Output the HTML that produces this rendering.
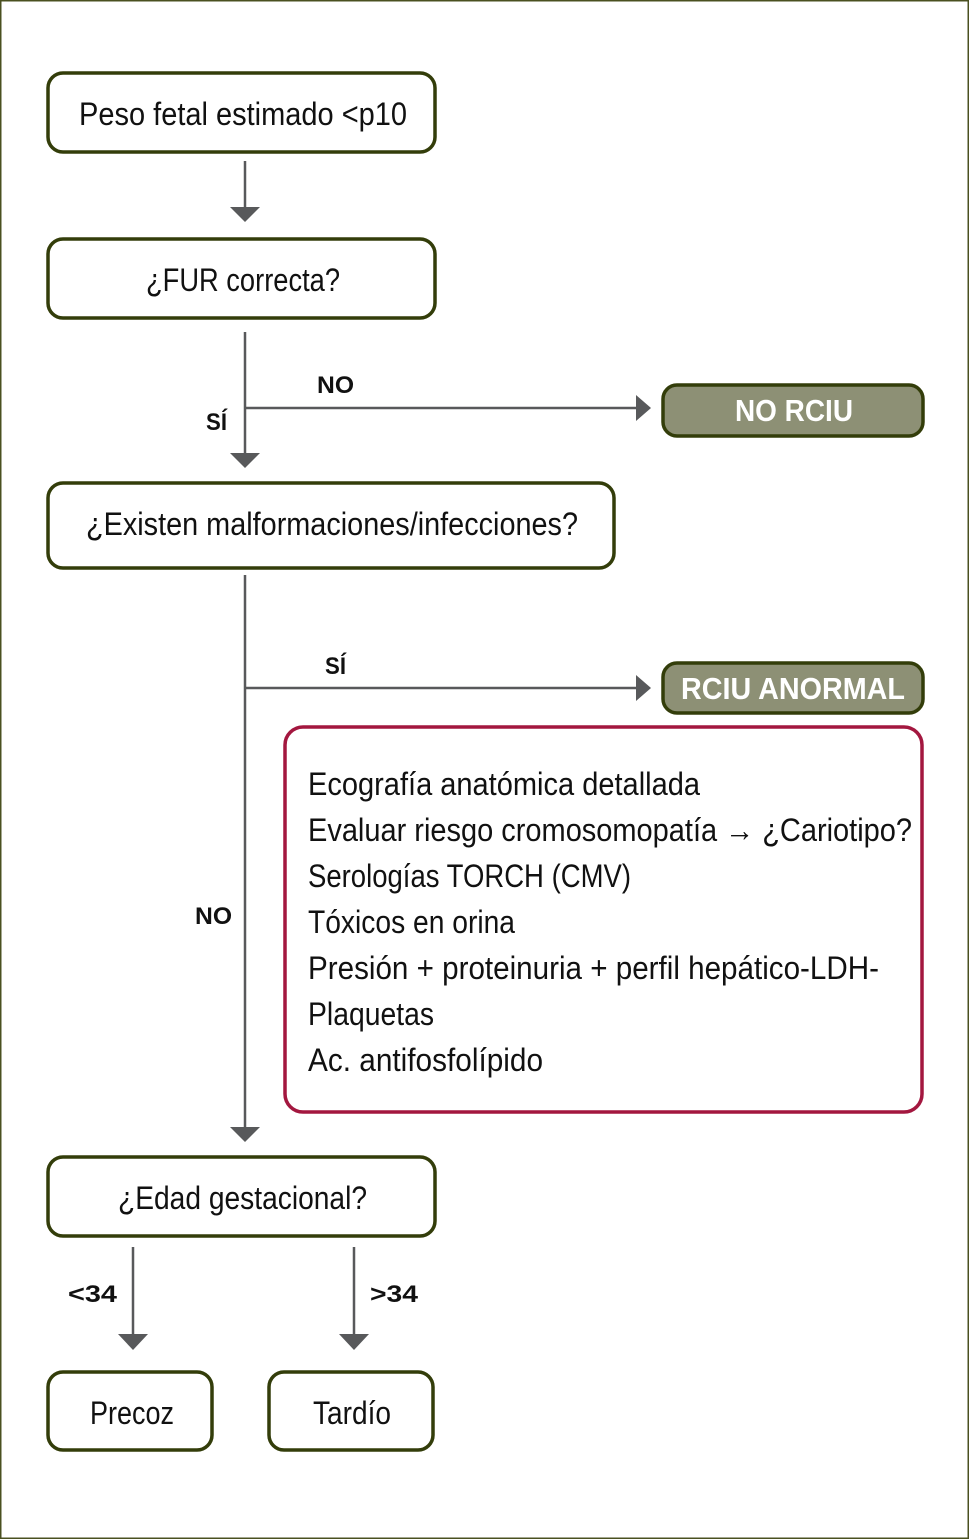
<!DOCTYPE html>
<html><head><meta charset="utf-8"><style>
html,body{margin:0;padding:0;background:#fff;}
svg{display:block;}
text{font-family:"Liberation Sans",sans-serif;fill:#111;}
</style></head><body>
<svg width="969" height="1539" viewBox="0 0 969 1539" xmlns="http://www.w3.org/2000/svg">
<rect x="0.5" y="0.5" width="968" height="1538" fill="#fff" stroke="#4a5020" stroke-width="2"/>
<g fill="#fff" stroke="#333d0a" stroke-width="3.5">
<rect x="48" y="73" width="387" height="79" rx="15"/>
<rect x="48" y="239" width="387" height="79" rx="15"/>
<rect x="48" y="483" width="566" height="85" rx="15"/>
<rect x="48" y="1157" width="387" height="79" rx="15"/>
<rect x="48" y="1372" width="164" height="78" rx="15"/>
<rect x="269" y="1372" width="164" height="78" rx="15"/>
<rect x="663" y="385" width="260" height="51" rx="14" fill="#8d9075"/>
<rect x="663" y="663" width="260" height="50" rx="14" fill="#8d9075"/>
</g>
<rect x="285" y="727" width="637" height="385" rx="18" fill="#fff" stroke="#a3173f" stroke-width="3.5"/>
<g stroke="#58595b" stroke-width="2.5" fill="none">
<line x1="245" y1="161" x2="245" y2="208"/>
<line x1="245" y1="332" x2="245" y2="454"/>
<line x1="245" y1="408" x2="637" y2="408"/>
<line x1="245" y1="575" x2="245" y2="1128"/>
<line x1="245" y1="688" x2="637" y2="688"/>
<line x1="133" y1="1247" x2="133" y2="1335"/>
<line x1="354" y1="1247" x2="354" y2="1335"/>
</g>
<g fill="#58595b">
<polygon points="230,207 260,207 245,222"/>
<polygon points="230,453 260,453 245,468"/>
<polygon points="636,395 636,421 651,408"/>
<polygon points="230,1127 260,1127 245,1142"/>
<polygon points="636,675 636,701 651,688"/>
<polygon points="118,1334 148,1334 133,1350"/>
<polygon points="339,1334 369,1334 354,1350"/>
</g>
<g font-size="32">
<text x="79" y="125" textLength="328" lengthAdjust="spacingAndGlyphs">Peso fetal estimado &lt;p10</text>
<text x="146" y="291" textLength="194" lengthAdjust="spacingAndGlyphs">¿FUR correcta?</text>
<text x="86" y="535" textLength="492" lengthAdjust="spacingAndGlyphs">¿Existen malformaciones/infecciones?</text>
<text x="118" y="1209" textLength="249" lengthAdjust="spacingAndGlyphs">¿Edad gestacional?</text>
<text x="90" y="1424" textLength="84" lengthAdjust="spacingAndGlyphs">Precoz</text>
<text x="313" y="1424" textLength="78" lengthAdjust="spacingAndGlyphs">Tardío</text>
<text x="308" y="795" textLength="392" lengthAdjust="spacingAndGlyphs">Ecografía anatómica detallada</text>
<text x="308" y="841" textLength="604" lengthAdjust="spacingAndGlyphs">Evaluar riesgo cromosomopatía <tspan font-weight="bold">→</tspan> ¿Cariotipo?</text>
<text x="308" y="887" textLength="323" lengthAdjust="spacingAndGlyphs">Serologías TORCH (CMV)</text>
<text x="308" y="933" textLength="207" lengthAdjust="spacingAndGlyphs">Tóxicos en orina</text>
<text x="308" y="979" textLength="571" lengthAdjust="spacingAndGlyphs">Presión + proteinuria + perfil hepático-LDH-</text>
<text x="308" y="1025" textLength="126" lengthAdjust="spacingAndGlyphs">Plaquetas</text>
<text x="308" y="1071" textLength="235" lengthAdjust="spacingAndGlyphs">Ac. antifosfolípido</text>
</g>
<g font-size="31" font-weight="bold">
<text x="735" y="421" textLength="118" lengthAdjust="spacingAndGlyphs" style="fill:#fff">NO RCIU</text>
<text x="681" y="699" textLength="224" lengthAdjust="spacingAndGlyphs" style="fill:#fff">RCIU ANORMAL</text>
</g>
<g font-size="24" font-weight="bold">
<text x="317" y="393" textLength="37" lengthAdjust="spacingAndGlyphs">NO</text>
<text x="206" y="430" textLength="21" lengthAdjust="spacingAndGlyphs">SÍ</text>
<text x="325" y="674" textLength="21" lengthAdjust="spacingAndGlyphs">SÍ</text>
<text x="195" y="924" textLength="37" lengthAdjust="spacingAndGlyphs">NO</text>
<text x="68" y="1302" textLength="49" lengthAdjust="spacingAndGlyphs">&lt;34</text>
<text x="370" y="1302" textLength="48" lengthAdjust="spacingAndGlyphs">&gt;34</text>
</g>
</svg>
</body></html>
